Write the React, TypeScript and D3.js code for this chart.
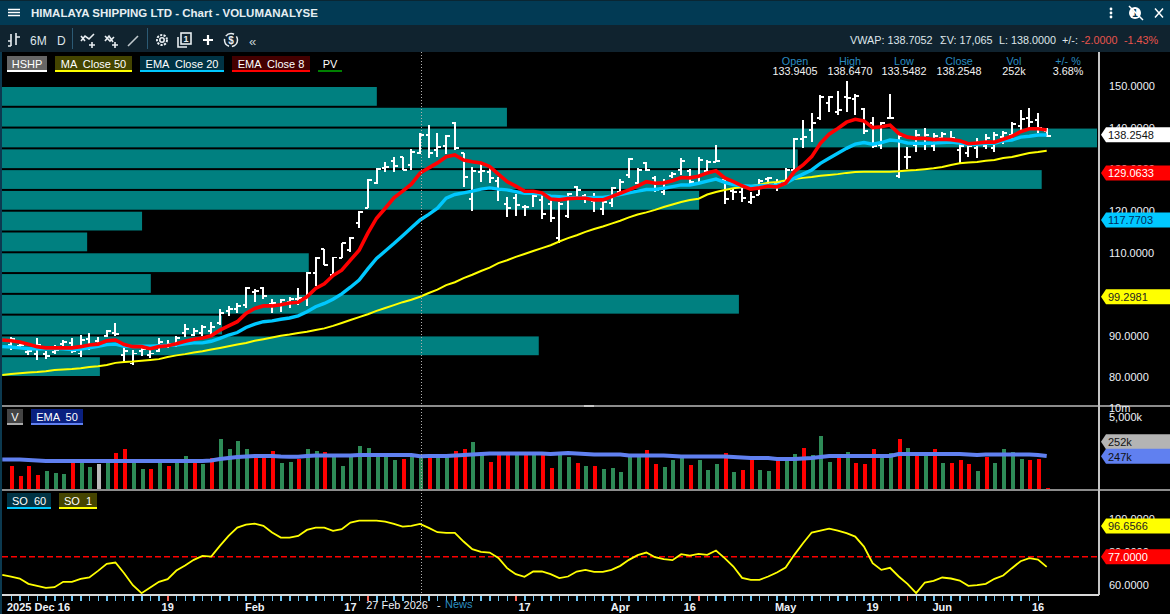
import React from "react";
import * as d3 from "d3";

const W = 1170;
const H = 614;
const FONT = "'Liberation Sans', Arial, sans-serif";

// daily bars, Dec 2025 - Jun 2026
const highs = [
  89.6,87.9,86.7,89.4,86.2,87.7,88.9,89.4,90.1,90.6,
  89.6,91.3,93.0,87.2,86.5,87.2,86.5,89.4,88.9,89.9,
  92.7,91.8,92.5,93.2,96.3,97.1,97.8,101.6,101.2,101.6,
  98.8,98.8,99.2,101.4,105.2,108.8,110.8,108.8,112.2,113.7,
  119.9,127.6,130.3,131.7,132.9,132.9,134.8,138.65,140.6,138.7,
  138.2,141.3,133.9,130.5,131.7,130.3,128.1,123.3,124.0,121.4,
  125.0,123.8,122.8,122.1,124.3,125.9,124.0,124.3,122.6,125.7,
  127.6,132.7,130.3,131.7,128.3,127.6,129.3,132.7,130.0,132.9,
  132.2,135.8,128.1,125.5,125.5,124.5,127.6,128.1,127.6,130.3,
  137.5,141.8,143.5,147.8,147.6,148.8,151.2,148.1,144.7,142.5,
  141.3,148.1,138.2,135.3,139.4,139.9,138.7,138.9,139.2,136.3,
  136.3,137.5,138.4,138.9,139.2,141.3,144.2,144.7,143.5,139.9,
];
const lows = [
  86.5,87.2,85.3,84.1,84.3,85.5,87.4,85.7,84.8,86.5,
  87.2,89.6,89.9,83.3,82.9,85.0,84.6,86.0,87.0,87.2,
  89.6,89.9,89.9,90.1,92.5,94.7,95.4,96.6,98.0,98.8,
  95.4,95.6,96.6,97.3,97.1,101.9,106.9,104.5,108.6,110.1,
  115.8,120.6,126.4,129.3,129.3,129.8,129.8,133.55,132.7,132.9,
  133.6,134.6,125.7,119.9,126.9,126.7,122.3,118.5,118.7,118.7,
  120.9,118.0,117.3,112.2,118.2,122.8,121.8,119.7,119.0,120.9,
  123.8,127.9,126.4,129.5,124.5,123.8,127.9,128.6,126.4,126.7,
  129.3,131.7,121.6,122.6,122.1,121.6,123.8,126.2,124.7,126.9,
  129.3,135.1,136.5,141.8,143.7,143.0,143.7,143.0,138.4,135.1,
  134.8,142.0,127.9,130.0,134.1,134.6,134.4,137.0,136.3,131.5,
  132.9,132.7,134.8,134.1,136.0,137.0,138.9,139.4,138.7,137.7,
];
const opens = [
  87.7,87.4,86.0,85.5,85.5,86.0,87.9,88.2,85.7,89.1,
  88.7,89.9,90.6,85.3,83.3,86.2,85.3,86.2,87.7,87.7,
  90.6,90.1,90.6,91.1,93.0,95.9,96.3,97.3,100.4,101.4,
  97.6,97.3,98.0,98.8,98.8,105.0,110.8,104.5,108.6,110.5,
  117.0,120.6,126.7,130.3,132.0,132.9,131.0,133.94,138.2,134.6,
  135.6,141.1,133.9,122.8,129.3,129.3,127.1,121.6,123.0,120.9,
  124.5,122.6,121.6,113.4,118.7,125.7,123.5,122.3,120.4,121.9,
  124.5,128.6,126.7,131.5,127.9,124.5,128.3,129.8,129.6,128.3,
  129.5,131.7,127.4,124.7,124.5,122.1,123.8,127.6,126.7,127.1,
  129.8,137.2,139.4,142.3,145.9,143.7,147.4,146.9,144.5,141.1,
  135.8,142.3,128.3,132.9,135.8,137.5,135.6,137.5,137.2,134.6,
  133.9,135.1,135.6,135.1,137.7,138.2,140.4,142.3,141.8,139.0,
];
const closes = [
  89.1,87.7,86.2,87.7,85.0,86.5,88.4,86.2,88.9,87.7,
  88.2,91.1,90.3,86.2,85.7,86.7,85.7,88.4,87.9,89.4,
  91.5,91.1,92.0,92.0,95.4,96.3,97.1,101.4,100.7,99.5,
  97.8,98.5,98.8,99.0,105.0,108.6,106.9,108.8,112.2,113.4,
  119.7,127.4,130.0,130.5,130.8,129.8,134.1,138.25,133.9,135.3,
  138.0,135.1,128.1,129.6,129.6,127.9,125.0,120.6,121.4,120.9,
  123.5,119.2,118.3,121.6,124.0,125.0,123.0,123.3,122.1,125.5,
  126.9,132.4,129.8,129.8,125.0,126.9,128.8,132.0,126.9,132.2,
  131.7,132.0,122.8,124.5,123.0,123.3,127.1,127.9,126.7,129.8,
  137.2,137.7,141.1,147.4,147.4,144.2,147.1,147.6,139.2,135.6,
  141.1,142.3,138.0,132.9,138.2,138.2,138.0,138.4,137.5,135.6,
  135.6,136.5,137.5,138.2,138.7,140.9,142.1,141.3,140.0,138.0,
];

// moving averages: first value belongs to the bar before the left edge (index -1)
const ema8 = [
  88.9,
  88.7,88.4,87.9,87.3,87.0,87.0,87.0,87.0,87.3,87.7,
  87.9,88.7,88.9,87.8,87.3,87.3,86.8,87.3,87.5,88.0,
  88.6,89.1,89.4,89.9,91.3,92.3,93.3,95.3,96.5,97.1,
  97.1,97.4,97.8,98.0,99.3,101.3,102.4,104.4,105.7,108.1,
  110.5,114.6,118.2,120.6,123.1,124.7,126.4,129.06,130.3,131.5,
  133.0,133.4,132.2,131.8,131.5,130.6,128.8,127.0,125.9,124.7,
  124.7,124.3,122.8,122.6,122.9,123.0,123.0,122.6,122.6,123.4,
  124.2,125.0,125.9,127.0,126.6,126.7,127.2,128.0,127.9,128.3,
  129.1,129.6,127.9,127.0,126.0,125.2,125.5,125.9,125.7,126.6,
  129.4,131.0,133.0,136.2,138.4,139.8,141.3,142.0,141.6,140.0,
  140.2,140.6,138.6,137.7,137.4,137.4,137.1,137.2,137.1,136.8,
  136.1,136.3,136.5,136.5,137.2,137.9,139.0,139.7,139.7,139.4,
];
const ema20 = [
  87.3,
  87.2,87.0,86.8,86.8,86.8,86.9,86.8,86.6,86.7,87.0,
  87.4,87.8,87.9,87.4,87.3,87.4,87.4,87.5,87.6,87.7,
  88.0,88.2,88.2,88.6,89.3,90.1,90.7,91.9,92.7,93.3,
  93.5,93.9,94.2,94.7,95.7,96.9,97.7,98.7,100.0,101.6,
  103.3,106.0,108.5,110.3,112.1,114.0,115.9,117.77,119.1,120.6,
  123.0,123.9,124.3,124.7,125.2,125.5,125.2,125.0,124.6,124.2,
  124.2,124.0,123.5,123.4,123.2,123.1,123.1,123.2,123.2,123.5,
  123.9,124.3,124.7,125.1,125.1,125.4,125.8,126.2,126.2,126.6,
  127.1,127.6,126.8,126.3,126.0,125.9,126.0,126.1,126.2,126.6,
  127.8,128.8,129.8,131.4,132.6,133.8,135.0,136.0,136.4,136.0,
  136.4,137.0,136.8,136.3,136.2,136.2,136.3,136.4,136.5,136.3,
  136.0,136.0,136.2,136.2,136.8,137.0,137.7,137.9,138.2,138.2,
];
const ma50 = [
  80.5,
  80.7,80.9,81.1,81.2,81.4,81.7,81.8,81.9,82.1,82.4,
  82.6,82.9,83.4,83.6,83.7,83.9,84.1,84.3,84.8,85.2,
  85.5,85.9,86.2,86.6,87.0,87.4,87.8,88.2,88.7,89.1,
  89.5,89.9,90.2,90.6,90.9,91.3,91.7,92.3,93.0,93.7,
  94.4,95.1,95.9,96.6,97.3,98.0,98.6,99.3,100.2,101.0,
  102.1,102.8,103.8,104.6,105.5,106.3,107.4,108.1,108.9,109.6,
  110.3,111.0,111.7,112.6,113.4,114.1,114.9,115.6,116.2,116.9,
  117.6,118.4,119.1,119.6,120.2,120.9,121.5,122.1,122.6,122.9,
  123.9,124.5,125.0,125.4,125.7,125.9,126.3,126.7,126.9,127.3,
  127.6,127.9,128.1,128.4,128.6,128.8,129.1,129.3,129.4,129.4,
  129.4,129.4,129.5,129.7,129.8,130.0,130.2,130.5,131.0,131.4,
  131.6,131.7,132.0,132.2,132.7,132.9,133.4,133.9,134.1,134.4,
];

// volume in thousands
const volumes = [
  116,54,116,58,79,68,63,199,199,108,
  136,158,315,429,158,92,92,158,116,158,
  251,158,136,215,924,429,792,429,271,271,
  368,146,158,199,429,368,341,251,116,232,
  540,463,251,251,184,199,232,252,232,232,
  232,368,429,734,271,158,271,271,271,271,
  271,271,100,271,232,146,116,116,92,100,
  73,232,232,397,136,108,184,232,126,184,
  86,136,315,73,86,184,86,79,184,184,
  292,463,271,1163,158,232,341,146,136,429,
  232,315,924,463,271,271,429,146,146,184,
  136,79,232,146,429,341,199,184,199,21,
];
const volumeSides = (
  "ddddDDDdDD" + "nDddDDdDdD" + "DdDdDDDDdd" + "dDDdDDdDDD" + "DDDDDdDDdD" +
  "DddDDdddDd" + "DddDDdDdDD" + "DDDddDDDdD" + "DDdDddDDdD" + "DdDDDdDddd" +
  "DDdDdDdDdd" + "dDdDDDDddd"
).split("");
const volumeEma = [
  191,
  191,191,184,177,171,171,171,171,171,171,
  171,171,171,171,171,171,171,171,171,171,
  171,171,171,177,199,215,232,241,251,251,
  251,241,238,238,251,261,261,261,261,261,
  271,271,271,271,271,271,271,247,251,251,
  251,261,271,281,292,303,303,303,303,303,
  303,303,292,303,315,303,292,281,281,281,
  281,261,261,261,261,261,251,241,241,241,
  241,241,241,232,223,215,215,215,199,199,
  199,207,215,232,251,251,251,251,251,251,
  251,251,292,292,292,292,292,292,292,292,
  281,271,281,281,281,281,281,281,271,251,
];

const stochastic = [
  66.1,
  65.1,63.9,60.7,59.5,58.3,58.7,61.9,61.9,63.7,64.5,
  68.5,72.7,73.5,67.1,59.9,55.1,58.5,61.9,63.5,68.7,
  71.7,75.1,77.5,77.1,83.5,89.5,94.5,96.3,96.9,95.5,
  91.5,88.5,88.5,89.5,93.1,94.5,94.5,92.5,93.5,97.5,
  98.7,98.7,98.7,98.1,96.7,95.1,95.5,96.66,94.3,91.7,
  91.3,91.3,86.1,81.5,79.9,79.5,76.3,70.1,66.5,64.9,
  68.1,68.1,66.5,64.1,65.1,68.1,69.1,67.9,67.9,69.1,
  71.5,75.1,77.9,79.5,76.7,75.5,74.9,78.5,77.7,78.7,
  78.1,80.7,76.1,71.1,64.3,63.1,63.1,65.1,67.5,70.5,
  78.1,85.1,91.5,92.7,93.9,92.7,91.1,89.1,83.1,73.1,
  69.1,70.3,65.1,60.7,55.1,61.5,62.5,64.5,63.9,62.7,
  59.5,59.9,60.7,63.7,65.7,70.1,74.3,76.1,75.3,70.9,
];

// volume at price, 5 dollar bins from 150 down to 80, in thousands
const profileTops = [150,145,140,135,130,125,120,115,110,105,100,95,90,85];
const profileVolumes = [942,1269,2752,2000,2613,1752,352,214,771,374,1852,553,1349,246];

const priceTicks = [150,140,130,120,110,100,90,80];
const soTicks = [100,80,60];
const oscillatorLevel = 77;
const crosshairBar = 47;
const redTickBars = [18,41,58,79,103];
const dateLabels: [number, string][] = [[18,"19"],[28,"Feb"],[39,"17"],[59,"17"],[70,"Apr"],[78,"16"],[89,"May"],[99,"19"],[107,"Jun"],[118,"16"]];
const headerCols = [
  ["Open","133.9405"],["High","138.6470"],["Low","133.5482"],
  ["Close","138.2548"],["Vol","252k"],["+/- %","3.68%"],
];

const x = d3.scaleLinear().domain([0, 118]).range([11, 1038]);
const yPrice = d3.scaleLinear().domain([80, 150]).range([377, 86]);
const yVol = d3.scaleLog().domain([20, 5000]).range([489, 417]);
const ySo = d3.scaleLinear().domain([60, 100]).range([585, 518.4]);
const xProfile = d3.scaleLinear().domain([0, 2752]).range([2, 1097]);

function pathOf(values: number[], y: (v: number) => number) {
  const line = d3.line<number>().x((_, i) => x(i - 1)).y((d) => y(d));
  return line(values) || "";
}

const Label = ({ x: lx, y, w, text, fill, line, color = "#fff" }: any) => (
  <g>
    {fill && <rect x={lx} y={y} width={w} height={14} fill={fill} />}
    <rect x={lx} y={y + 14} width={w} height={2} fill={line} />
    <text x={lx + w / 2} y={y + 11.5} textAnchor="middle" fontSize={11} fill={color} xmlSpace="preserve">{text}</text>
  </g>
);

const Tag = ({ y, text, fill, color }: any) => (
  <g>
    <path d={`M1101,${y} L1106,${y - 7.5} L1170,${y - 7.5} L1170,${y + 7.5} L1106,${y + 7.5} Z`} fill={fill} />
    <text x={1108} y={y + 4.3} fontSize={11} fill={color}>{text}</text>
  </g>
);

function Toolbar() {
  const ic = { fill: "none", stroke: "#e8eef2", strokeWidth: 1.6 };
  return (
    <g>
      {/* title bar */}
      <rect x={0} y={0} width={W} height={25} fill="#023a54" />
      <rect x={0} y={25} width={W} height={27} fill="#10232f" />
      <rect x={0} y={0} width={W} height={1} fill="#0a2633" />
      <path d="M8,9.5H20 M8,12.5H20 M8,15.5H20" stroke="#fff" strokeWidth={1.6} />
      <text x={31} y={17} fontSize={11.5} fontWeight="bold" fill="#e6eef2">HIMALAYA SHIPPING LTD - Chart - VOLUMANALYSE</text>
      <circle cx={1111} cy={9} r={1.4} fill="#fff" /><circle cx={1111} cy={13} r={1.4} fill="#fff" /><circle cx={1111} cy={17} r={1.4} fill="#fff" />
      <circle cx={1135} cy={13} r={6} fill="#fff" />
      <text x={1135} y={17} textAnchor="middle" fontSize={10} fontWeight="bold" fill="#023a54">1</text>
      <path d="M1129,6 L1143,20" stroke="#fff" strokeWidth={1.5} />
      <path d="M1155,8.5 L1163,17.5 M1163,8.5 L1155,17.5" stroke="#fff" strokeWidth={1.5} />

      {/* toolbar icons */}
      <path d="M11,34V46 M11,46H8 M16,33V45 M16,37H20 M8,41H11" {...ic} />
      <text x={30} y={45} fontSize={12} fill="#dfe6ea">6M</text>
      <text x={57} y={45} fontSize={12} fill="#dfe6ea">D</text>
      <rect x={72} y={28} width={1} height={21} fill="#2c5a74" />
      <path d="M81,41 L85,36 L89,39 L94,34 M81,36 L85,41 M89,45H95 M92,42V48" {...ic} />
      <path d="M105,36 L110,41 L114,37 M105,41 L109,36 L113,42 M112,45H118 M115,42V48" {...ic} />
      <path d="M128,46 L138,36" {...ic} stroke="#bfc8cc" />
      <rect x={147} y={28} width={1} height={21} fill="#2c5a74" />
      <circle cx={162} cy={40} r={2.2} {...ic} />
      <circle cx={162} cy={40} r={5} fill="none" stroke="#e8eef2" strokeWidth={2} strokeDasharray="2.2 1.3" />
      <path d="M178,37V47H187" {...ic} />
      <rect x={181} y={33} width={10} height={11} {...ic} />
      <text x={186} y={42} textAnchor="middle" fontSize={9} fontWeight="bold" fill="#e8eef2">1</text>
      <path d="M208,35V45 M203,40H213" stroke="#fff" strokeWidth={2.2} />
      <circle cx={231} cy={40} r={6.5} fill="none" stroke="#e8eef2" strokeWidth={1.5} strokeDasharray="9 3" />
      <text x={231} y={44} textAnchor="middle" fontSize={10} fontWeight="bold" fill="#e8eef2">$</text>
      <text x={249} y={46} fontSize={13} fill="#c8d2d6">«</text>

      {/* quote strip */}
      <g fontSize={10.8}>
        <text x={850} y={44} fill="#dfe6ea">VWAP: 138.7052</text>
        <text x={940} y={44} fill="#dfe6ea">ΣV: 17,065</text>
        <text x={999} y={44} fill="#dfe6ea">L: 138.0000</text>
        <text x={1062} y={44} fill="#dfe6ea">+/-:</text>
        <text x={1081} y={44} fill="#e8544c">-2.0000</text>
        <text x={1124} y={44} fill="#e8544c">-1.43%</text>
      </g>
    </g>
  );
}

export default function App() {
  const last = closes.length;
  const bars = d3.range(last);
  const allTicks = d3.range(volumes.length - 1);

  return (
    <svg width={W} height={H} viewBox={`0 0 ${W} ${H}`} fontFamily={FONT}
      style={{ position: "absolute", left: 0, top: 0, display: "block", background: "#000" }}>
      <defs>
        <clipPath id="plot"><rect x={2} y={52} width={1096} height={354} /></clipPath>
      </defs>
      <rect x={0} y={0} width={W} height={H} fill="#000" />
      <Toolbar />
      <rect x={0} y={52} width={2} height={562} fill="#0c3a50" />

      {/* price panel */}
      <g clipPath="url(#plot)">
        {profileTops.map((t, i) => (
          <rect key={t} x={2} y={yPrice(t) + 1} width={xProfile(profileVolumes[i]) - 2}
            height={yPrice(t - 5) - yPrice(t) - 2} fill="#008080" />
        ))}
        <g stroke="#fff" shapeRendering="crispEdges">
          {bars.map((i) => (
            <g key={i}>
              <line x1={x(i)} x2={x(i)} y1={yPrice(highs[i])} y2={yPrice(lows[i])} strokeWidth={2} />
              <line x1={x(i) - 3} x2={x(i)} y1={yPrice(opens[i])} y2={yPrice(opens[i])} strokeWidth={1.5} />
              <line x1={x(i)} x2={x(i) + 4} y1={yPrice(closes[i])} y2={yPrice(closes[i])} strokeWidth={1.5} />
            </g>
          ))}
        </g>
        <path d={pathOf(ma50, yPrice)} fill="none" stroke="#ffff00" strokeWidth={2} />
        <path d={pathOf(ema20, yPrice)} fill="none" stroke="#00c8ff" strokeWidth={3.4} />
        <path d={pathOf(ema8, yPrice)} fill="none" stroke="#ff0000" strokeWidth={3.6} />
      </g>

      <Label x={7} y={56} w={40} text="HSHP" fill="#666666" line="#ffffff" />
      <Label x={55} y={56} w={77} text="MA  Close 50" fill="#444400" line="#ffff00" />
      <Label x={140} y={56} w={84} text="EMA  Close 20" fill="#003344" line="#00c8ff" />
      <Label x={232} y={56} w={78} text="EMA  Close 8" fill="#440000" line="#ff0000" />
      <Label x={318} y={56} w={24} text="PV" line="#008000" />

      {headerCols.map(([name, val], i) => {
        const cx = [795, 850, 904, 959, 1014, 1068][i];
        return (
          <g key={name} textAnchor="middle" fontSize={10.8}>
            <text x={cx} y={65} fill="#2a8cc0">{name}</text>
            <text x={cx} y={75} fill="#f2f2f2">{val}</text>
          </g>
        );
      })}

      {/* volume panel */}
      <g shapeRendering="crispEdges">
        {volumes.map((v, i) => (
          <rect key={i} x={x(i) - 1} y={yVol(v)} width={4} height={489 - yVol(v)}
            fill={volumeSides[i] === "d" ? "#ff0000" : volumeSides[i] === "n" ? "#bbbbbb" : "#2e8b57"} />
        ))}
      </g>
      <path d={pathOf(volumeEma, yVol)} fill="none" stroke="#6080f0" strokeWidth={4} />
      <Label x={7} y={409} w={16} text="V" fill="#444444" line="#aaaaaa" />
      <Label x={31} y={409} w={52} text="EMA  50" fill="#0a2080" line="#6080f0" />

      {/* oscillator panel */}
      <line x1={2} x2={1099} y1={ySo(oscillatorLevel)} y2={ySo(oscillatorLevel)} stroke="#ff0000" strokeWidth={1.6} strokeDasharray="6 3" />
      <path d={pathOf(stochastic, ySo)} fill="none" stroke="#ffff00" strokeWidth={1.8} />
      <Label x={7} y={493} w={44} text="SO  60" fill="#003344" line="#00c8ff" />
      <Label x={59} y={493} w={38} text="SO  1" fill="#444400" line="#ffff00" />

      {/* frame */}
      <g shapeRendering="crispEdges">
        <rect x={2} y={405} width={W - 2} height={2} fill="#8c8c8c" />
        <rect x={2} y={489} width={W - 2} height={2} fill="#8c8c8c" />
        <rect x={1098} y={52} width={2} height={543} fill="#c4c4c4" />
        <rect x={2} y={594} width={1097} height={1.5} fill="#d8d8d8" />
        <line x1={x(crosshairBar) + 1} x2={x(crosshairBar) + 1} y1={52} y2={594} stroke="#b0b0b0" strokeDasharray="1 2" />
        <rect x={584} y={405} width={10} height={2} fill="#c8c8c8" />
      </g>

      {/* right axes */}
      <g fontSize={11} fill="#eef2f8">
        {priceTicks.map((t) => (
          <text key={t} x={1109} y={yPrice(t) + 4.3}>{d3.format(".4f")(t)}</text>
        ))}
        <text x={1109} y={412}>10m</text>
        <text x={1109} y={421}>5,000k</text>
        {soTicks.map((t) => (
          <text key={t} x={1109} y={ySo(t) + 4.3}>{d3.format(".4f")(t)}</text>
        ))}
      </g>
      <Tag y={yPrice(closes[crosshairBar])} text="138.2548" fill="#ffffff" color="#111" />
      <Tag y={yPrice(ema8[crosshairBar + 1])} text="129.0633" fill="#ff0000" color="#fff" />
      <Tag y={yPrice(ema20[crosshairBar + 1])} text="117.7703" fill="#00c8ff" color="#002a5a" />
      <Tag y={yPrice(ma50[crosshairBar + 1])} text="99.2981" fill="#ffff00" color="#222" />
      <Tag y={yVol(volumeEma[crosshairBar + 1]) - 14.5} text="252k" fill="#b4b4b4" color="#111" />
      <Tag y={yVol(volumeEma[crosshairBar + 1])} text="247k" fill="#6080f0" color="#111" />
      <Tag y={ySo(stochastic[crosshairBar + 1]) + 2} text="96.6566" fill="#ffff00" color="#222" />
      <Tag y={ySo(oscillatorLevel)} text="77.0000" fill="#ff0000" color="#fff" />

      {/* date axis */}
      <g shapeRendering="crispEdges">
        {allTicks.map((i) => (
          <rect key={i} x={x(i) - 0.5} y={595.5} width={1.5} height={5}
            fill={redTickBars.includes(i) ? "#ff6a5a" : "#6cc4f4"} />
        ))}
      </g>
      <g fontSize={11} fontWeight="bold" fill="#eef2f8">
        <text x={7} y={611}>2025 Dec 16</text>
        {dateLabels.map(([i, t]) => (
          <text key={i} x={x(i)} y={611} textAnchor="middle">{t}</text>
        ))}
      </g>
      <text x={428} y={609} textAnchor="end" fontSize={11} fill="#eef2f8">27 Feb 2026</text>
      <text x={437} y={609} fontSize={11} fill="#eef2f8">-</text>
      <text x={445} y={608} fontSize={11} fill="#2a8cc0">News</text>
    </svg>
  );
}
